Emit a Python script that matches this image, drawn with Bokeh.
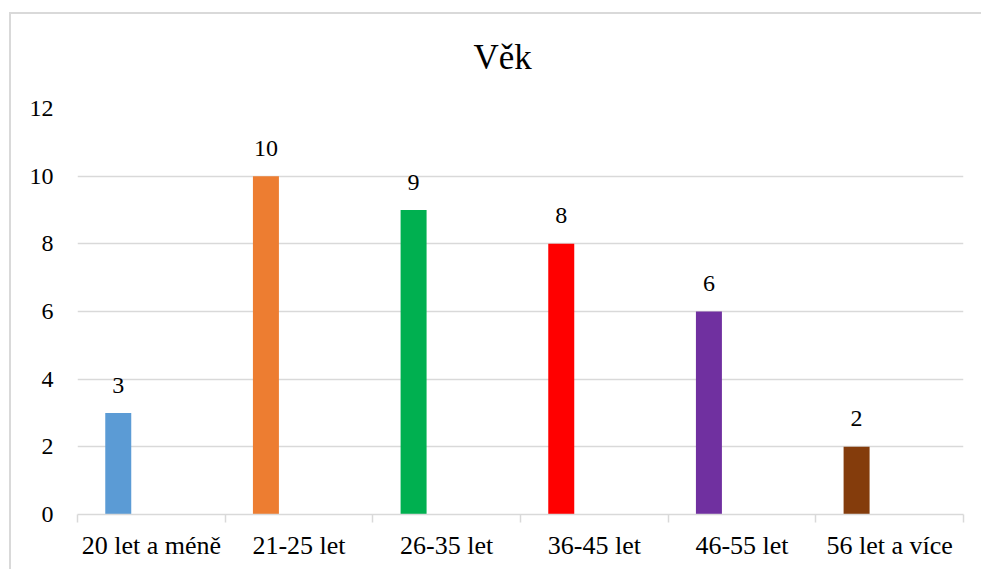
from bokeh.plotting import figure
from bokeh.models import (ColumnDataSource, Range1d, FixedTicker, Title)
from bokeh.transform import dodge
from bokeh.core.properties import value
from bokeh.embed import file_html
from bokeh.resources import INLINE

categories = ["20 let a méně", "21-25 let", "26-35 let", "36-45 let", "46-55 let", "56 let a více"]
counts = [3, 10, 9, 8, 6, 2]
colors = ["#5B9BD5", "#ED7D31", "#00B050", "#FF0000", "#7030A0", "#843C0C"]
y_ticks = [0, 2, 4, 6, 8, 10, 12]
title_text = "Věk"

FONT = "Liberation Serif, Times New Roman, serif"
GRID = "#d9d9d9"

n = len(categories)
centers = [i + 0.5 for i in range(n)]  # category slot centers on a 0..n axis
src = ColumnDataSource(dict(pos=centers, cat=categories, val=counts, color=colors,
                            label=[str(v) for v in counts]))

p = figure(width=981, height=569, x_range=Range1d(0, n), y_range=Range1d(0, 12),
           output_backend="svg", toolbar_location=None,
           min_border_left=77, min_border_right=18, min_border_top=108, min_border_bottom=55)
# light chart-area border on the left and top, drawn behind the transparent canvas
p.styles = {
    "background-image": f"linear-gradient({GRID}, {GRID}), linear-gradient({GRID}, {GRID})",
    "background-size": "2px 100%, 100% 2px",
    "background-position": "9px 12px, 9px 12px",
    "background-repeat": "no-repeat",
}
p.outline_line_color = None
p.background_fill_color = "white"
p.border_fill_color = None

t = Title(text=title_text, text_font=FONT, text_font_size="35px", text_font_style="normal",
          text_color="black", align="left", offset=396, standoff=64)
p.add_layout(t, "above")

xpos = dodge("pos", -0.224, range=p.x_range)
p.vbar(x=xpos, top="val", width=0.176, source=src, fill_color="color", line_color=None)
p.text(x=xpos, y="val", text="label", source=src, text_font=value(FONT), text_font_size="24px",
       text_align="center", text_baseline="alphabetic", y_offset=-28, text_color="black")

# y axis
yax = p.yaxis[0]
yax.ticker = FixedTicker(ticks=y_ticks)
yax.axis_line_color = None
yax.major_tick_line_color = None
yax.minor_tick_line_color = None
yax.major_tick_out = 0
yax.major_label_standoff = 24
yax.major_label_text_font = FONT
yax.major_label_text_font_size = "24px"
yax.major_label_text_color = "black"

p.ygrid.grid_line_color = GRID
p.ygrid.grid_line_width = 1.5
p.ygrid.ticker = FixedTicker(ticks=y_ticks)
p.xgrid.grid_line_color = None

# x axis: ticks at category boundaries, labels at category centers
xax = p.xaxis[0]
xax.ticker = FixedTicker(ticks=centers, minor_ticks=list(range(n + 1)))
xax.major_label_overrides = {c: lab for c, lab in zip(centers, categories)}
xax.axis_line_color = GRID
xax.axis_line_width = 1.5
xax.major_tick_line_color = None
xax.major_tick_in = 0
xax.major_tick_out = 8
xax.minor_tick_line_color = GRID
xax.minor_tick_line_width = 1.5
xax.minor_tick_in = 0
xax.minor_tick_out = 8
xax.major_label_standoff = 8
xax.major_label_text_font = FONT
xax.major_label_text_font_size = "26px"
xax.major_label_text_color = "black"

open("out.html", "w").write(file_html(p, INLINE))
